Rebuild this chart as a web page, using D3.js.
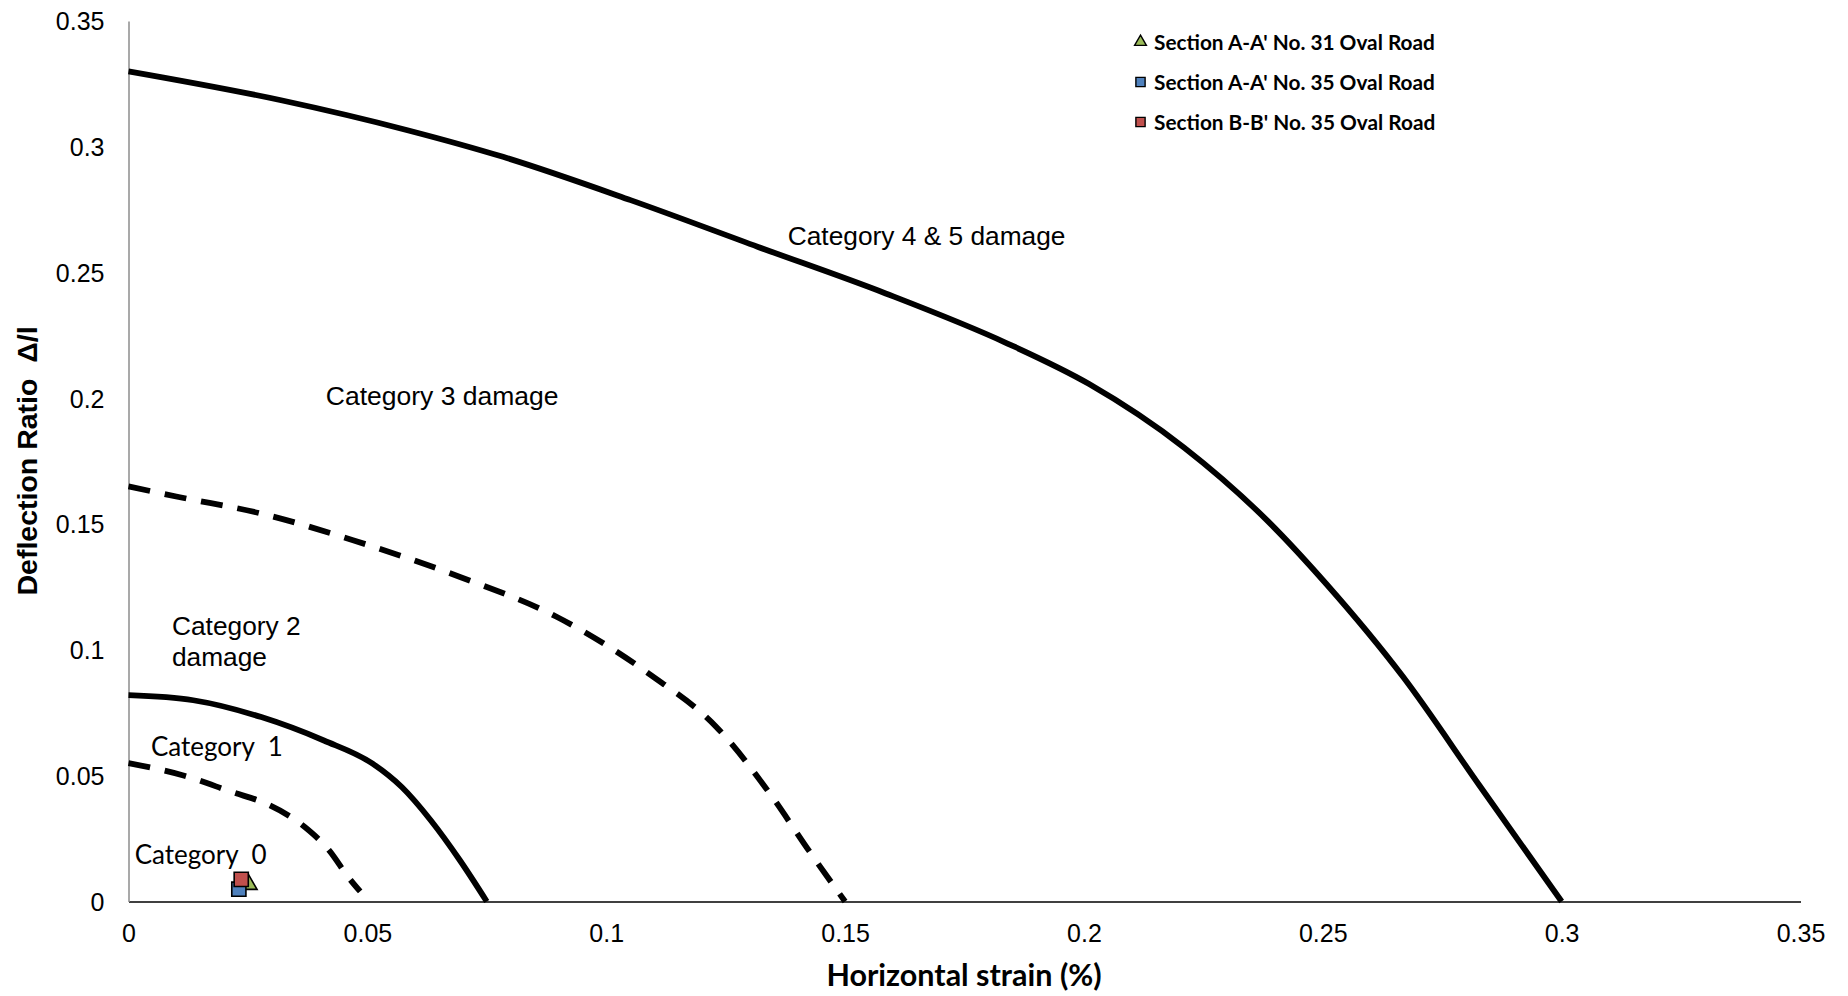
<!DOCTYPE html>
<html><head><meta charset="utf-8">
<script src="https://cdn.jsdelivr.net/npm/d3@7"></script>
<style>
html,body{margin:0;padding:0;background:#fff;}
svg{display:block;}
text{white-space:pre;}
</style></head>
<body>
<svg id="chart" width="1848" height="996"></svg>
<script>
// ---- Data ----
const xTicks = [0, 0.05, 0.1, 0.15, 0.2, 0.25, 0.3, 0.35];
const xTickLabels = ["0", "0.05", "0.1", "0.15", "0.2", "0.25", "0.3", "0.35"];
const yTicks = [0, 0.05, 0.1, 0.15, 0.2, 0.25, 0.3, 0.35];
const yTickLabels = ["0", "0.05", "0.1", "0.15", "0.2", "0.25", "0.3", "0.35"];

// boundary curves: [horizontal strain %, deflection ratio]
const cat45Boundary = [[0,0.330],[0.0317,0.3186],[0.0584,0.3066],[0.0784,0.296],[0.1051,0.2788],[0.1318,0.2602],[0.1585,0.2417],[0.1840,0.2218],[0.2010,0.2058],[0.2210,0.1804],[0.2386,0.1510],[0.2507,0.1263],[0.2668,0.0893],[0.2828,0.0461],[0.300,0]];
const cat3Boundary = [[0,0.165],[0.0105,0.1608],[0.0278,0.1542],[0.0470,0.1436],[0.0694,0.1290],[0.0897,0.1131],[0.1089,0.0906],[0.1231,0.0693],[0.1343,0.0428],[0.1424,0.0203],[0.150,0]];
const cat2Boundary = [[0,0.082],[0.01355,0.0800],[0.0278,0.0733],[0.0409,0.0640],[0.0511,0.0548],[0.0572,0.0455],[0.0633,0.0322],[0.0694,0.0163],[0.075,0]];
const cat1Boundary = [[0,0.055],[0.0115,0.0501],[0.0217,0.0435],[0.0288,0.0389],[0.0369,0.0296],[0.0420,0.0203],[0.0460,0.0097],[0.0485,0.0040]];

const seriesNames = ["Section A-A' No. 31 Oval Road", "Section A-A' No. 35 Oval Road", "Section B-B' No. 35 Oval Road"];
const seriesX = [0.0251, 0.0231, 0.0236];
const seriesY = [0.0068, 0.0049, 0.0088];
const seriesColors = ["#9bbb59", "#4f81bd", "#c0504d"];
const seriesShapes = ["triangle", "square", "square"];

const xTitle = "Horizontal strain (%)";
const yTitle = "Deflection Ratio  \u0394/l";

// ---- Layout ----
const svg = d3.select("#chart");
const x = d3.scaleLinear().domain([0, 0.35]).range([128.5, 1800.5]);
const y = d3.scaleLinear().domain([0, 0.35]).range([901.5, 21]);

const arial = "'Liberation Sans', Arial, sans-serif";
const calib = "Lato, 'Open Sans', sans-serif";

// axes
const xAxis = d3.axisBottom(x).tickValues(xTicks).tickSize(0).tickPadding(0)
  .tickFormat((d, i) => xTickLabels[i]);
const gx = svg.append("g").attr("transform", `translate(0,${y(0)})`).call(xAxis);
gx.select(".domain").attr("stroke", "#000").attr("stroke-width", 1.3);
gx.selectAll("text").attr("font-family", arial).attr("font-size", 25).attr("fill", "#000")
  .attr("y", 40).attr("dy", 0);

const yAxis = d3.axisLeft(y).tickValues(yTicks).tickSize(0).tickPadding(0)
  .tickFormat((d, i) => yTickLabels[i]);
const gy = svg.append("g").attr("transform", `translate(${x(0)},0)`).call(yAxis);
gy.select(".domain").attr("stroke", "#8c8c8c").attr("stroke-width", 1.5);
gy.selectAll("text").attr("font-family", arial).attr("font-size", 25).attr("fill", "#000")
  .attr("x", -24).attr("dy", "0.35em");

// curves
const line = d3.line().x(d => x(d[0])).y(d => y(d[1])).curve(d3.curveMonotoneX);
const curves = [
  {d: cat45Boundary, dash: null},
  {d: cat3Boundary, dash: "22,15"},
  {d: cat2Boundary, dash: null},
  {d: cat1Boundary, dash: "22,15"}
];
svg.append("g").selectAll("path").data(curves).join("path")
  .attr("d", c => line(c.d))
  .attr("fill", "none").attr("stroke", "#000").attr("stroke-width", 5.8)
  .attr("stroke-dasharray", c => c.dash);

// annotations
const ann = svg.append("g");
function label(txt, dx, dy, font, size) {
  ann.append("text").attr("x", x(dx)).attr("y", y(dy)).attr("font-family", font)
    .attr("font-size", size).attr("fill", "#000").text(txt);
}
label("Category 4 & 5 damage", 0.1380, 0.2610, arial, 26.3);
label("Category 3 damage", 0.0413, 0.1972, arial, 26.5);
label("Category 2", 0.0091, 0.1058, arial, 26.3);
label("damage", 0.0091, 0.0936, arial, 26.3);
label("Category  1", 0.0047, 0.0577, calib, 26);
label("Category  0", 0.0013, 0.0151, calib, 26);

// markers
const sym = (shape, size) => d3.symbol().type(shape === "triangle" ? d3.symbolTriangle : d3.symbolSquare).size(size)();
const pts = seriesX.map((v, i) => ({x: v, y: seriesY[i], c: seriesColors[i], s: seriesShapes[i]}));
svg.append("g").selectAll("path").data(pts).join("path")
  .attr("transform", d => `translate(${x(d.x)},${y(d.y)})`)
  .attr("d", d => sym(d.s, d.s === "triangle" ? 130 : 200))
  .attr("fill", d => d.c).attr("stroke", "#000").attr("stroke-width", 1.6);

// legend
const leg = svg.append("g");
seriesNames.forEach((n, i) => {
  const cy = 42 + i * 40;
  leg.append("path").attr("transform", `translate(1140.5,${cy})`)
    .attr("d", sym(seriesShapes[i], seriesShapes[i] === "triangle" ? 60 : 85))
    .attr("fill", seriesColors[i]).attr("stroke", "#000").attr("stroke-width", 1.4);
  leg.append("text").attr("x", 1154).attr("y", cy + 7.5).attr("font-family", calib)
    .attr("font-weight", "bold").attr("font-size", 20.8).attr("fill", "#000").text(n);
});

// axis titles
svg.append("text").attr("x", 964).attr("y", 986).attr("text-anchor", "middle")
  .attr("font-family", calib).attr("font-weight", "bold").attr("font-size", 30.5).attr("fill", "#000")
  .text(xTitle);
svg.append("text").attr("transform", "translate(37,461) rotate(-90)").attr("text-anchor", "middle")
  .attr("font-family", arial).attr("font-weight", "bold").attr("font-size", 28.5).attr("fill", "#000")
  .text(yTitle);
</script>
</body></html>
